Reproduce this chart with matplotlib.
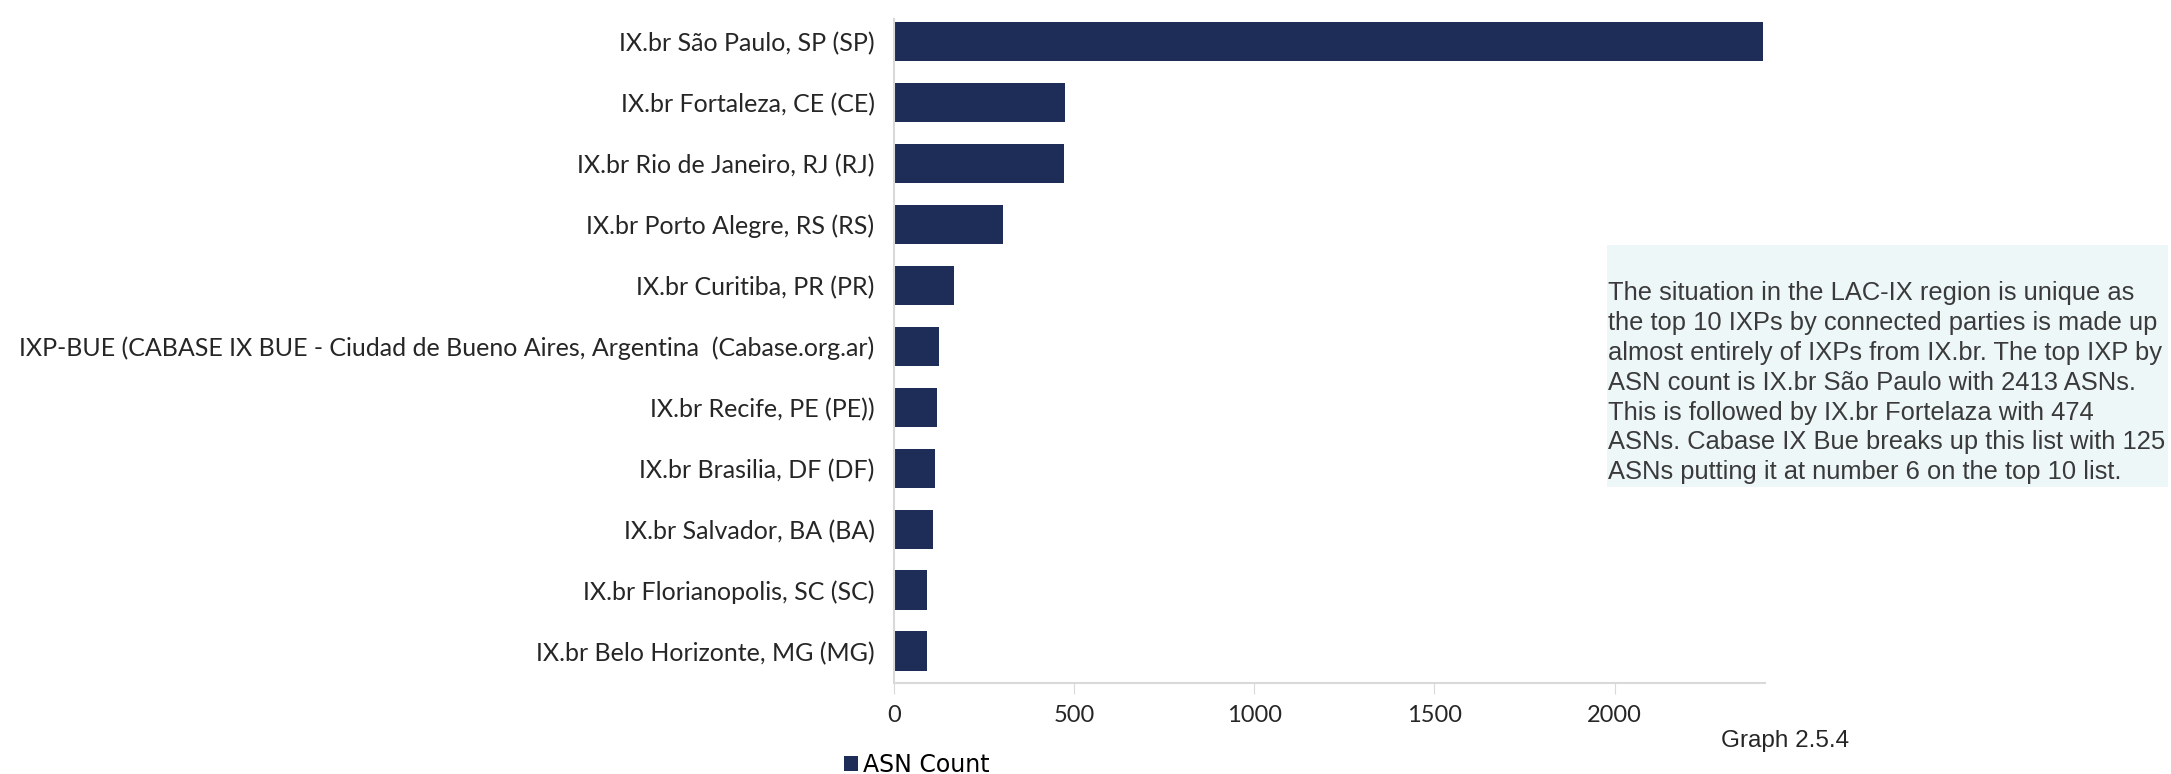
import matplotlib.pyplot as plt
from matplotlib.patches import Rectangle

labels = [
    "IX.br São Paulo, SP (SP)",
    "IX.br Fortaleza, CE (CE)",
    "IX.br Rio de Janeiro, RJ (RJ)",
    "IX.br Porto Alegre, RS (RS)",
    "IX.br Curitiba, PR (PR)",
    "IXP-BUE (CABASE IX BUE - Ciudad de Bueno Aires, Argentina  (Cabase.org.ar)",
    "IX.br Recife, PE (PE))",
    "IX.br Brasilia, DF (DF)",
    "IX.br Salvador, BA (BA)",
    "IX.br Florianopolis, SC (SC)",
    "IX.br Belo Horizonte, MG (MG)",
]
asn_count = [2413, 474, 471, 302, 167, 125, 118, 114, 107, 92, 92]
x_ticks = [0, 500, 1000, 1500, 2000]

note = ("The situation in the LAC-IX region is unique as\n"
        "the top 10 IXPs by connected parties is made up\n"
        "almost entirely of IXPs from IX.br. The top IXP by\n"
        "ASN count is IX.br São Paulo with 2413 ASNs.\n"
        "This is followed by IX.br Fortelaza with 474\n"
        "ASNs. Cabase IX Bue breaks up this list with 125\n"
        "ASNs putting it at number 6 on the top 10 list.")

navy = "#1e2c58"
label_font = ["Lato", "DejaVu Sans"]

fig = plt.figure(figsize=(21.71, 7.74), dpi=100)
ax = fig.add_axes([0.4118, 0.1176, 0.4013, 0.8579])

y_pos = list(range(len(labels)))
ax.barh(y_pos, asn_count, height=0.65, color=navy, label="ASN Count")
ax.set_ylim(10.52, -0.37)
ax.set_xlim(0, 2418)

ax.set_yticks(y_pos)
ax.set_yticklabels(labels, fontsize=18, color="#262626", family=label_font)
ax.set_xticks(x_ticks)
ax.set_xticklabels([str(t) for t in x_ticks], fontsize=17, color="#262626",
                   family=label_font)
ax.tick_params(axis="y", length=0, pad=14)
ax.tick_params(axis="x", length=8, color="#d9d9d9", pad=8)

for side in ["top", "right"]:
    ax.spines[side].set_visible(False)
ax.spines["left"].set_color("#d9d9d9")
ax.spines["left"].set_linewidth(1.5)
ax.spines["bottom"].set_color("#d9d9d9")
ax.spines["bottom"].set_linewidth(1.5)

# note box on the right
fig.patches.append(Rectangle((0.7402, 0.3708), 0.2584, 0.3127,
                             transform=fig.transFigure, facecolor="#eef7f8",
                             edgecolor="none", zorder=0))
fig.text(0.7405, 0.637, note, fontsize=18.4, color="#3a3a3a",
         family="Liberation Sans", va="top", ha="left", linespacing=1.31)

fig.text(0.7927, 0.0426, "Graph 2.5.4", fontsize=17.5, color="#262626",
         family="Liberation Sans", va="center", ha="left")

fig.legend(loc="center left", bbox_to_anchor=(0.379, 0.012), frameon=False,
           handlelength=0.6, handleheight=0.6, handletextpad=0.2,
           prop={"family": "Liberation Sans Narrow", "size": 17})

fig.savefig("out.png", dpi=100)
